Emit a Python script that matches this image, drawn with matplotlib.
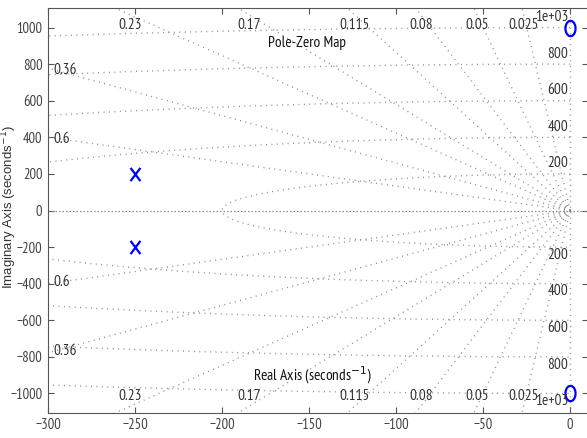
import numpy as np
import matplotlib
matplotlib.use('Agg')
import matplotlib.pyplot as plt
from matplotlib.path import Path

plt.rcParams['font.family'] = ['PT Sans Narrow', 'Roboto Condensed', 'DejaVu Sans']

# poles and zeros (real, imag)
pole_re = [-250, -250]
pole_im = [200, -200]
zero_re = [0, 0]
zero_im = [1000, -1000]

# sgrid values
zetas_top = [0.23, 0.17, 0.115, 0.08, 0.05, 0.025]
zetas_left = [0.36, 0.6]
zeta_labels_top = ['0.23', '0.17', '0.115', '0.08', '0.05', '0.025']
zeta_labels_left = ['0.36', '0.6']
wns = [200, 400, 600, 800, 1000]
wn_labels = ['200', '400', '600', '800', '1e+03']

xticks = [-300, -250, -200, -150, -100, -50, 0]
yticks = [-1000, -800, -600, -400, -200, 0, 200, 400, 600, 800, 1000]

fig = plt.figure(figsize=(5.87, 4.38), dpi=100)
ax = fig.add_axes([48 / 587, (438 - 412.7) / 438, 539.6 / 587, 404.4 / 438])
ax.set_xlim(-300, 10)
ax.set_ylim(-1105, 1105)

gcol = '#8a8a8a'
dots = dict(color=gcol, lw=1.0, linestyle=(0, (0.7, 3.2)))

# damping ratio rays
for z in zetas_top + zetas_left:
    t = np.sqrt(1 - z ** 2) / z
    r = np.linspace(0, 3000, 2)
    ax.plot(-r, r * t, **dots)
    ax.plot(-r, -r * t, **dots)

# natural frequency semicircles
th = np.linspace(np.pi / 2, 3 * np.pi / 2, 400)
for w in wns:
    ax.plot(w * np.cos(th), w * np.sin(th), **dots)

# axes lines
ax.plot([-300, 10], [0, 0], color=gcol, lw=0.9, linestyle=(0, (1.2, 1.6)))
ax.plot([0, 0], [-1105, 1105], **dots)

tcol = '#333333'
fs = 11
for z, lab in zip(zetas_top, zeta_labels_top):
    t = np.sqrt(1 - z ** 2) / z
    x = -1070 / t
    ax.text(x, 1016, lab, ha='center', va='center', fontsize=fs, color=tcol)
    ax.text(x, -1016, lab, ha='center', va='center', fontsize=fs, color=tcol)
for z, lab in zip(zetas_left, zeta_labels_left):
    t = np.sqrt(1 - z ** 2) / z
    y = 300 * t - 10
    ax.text(-297, y, lab, ha='left', va='center', fontsize=fs, color=tcol)
    ax.text(-297, -y, lab, ha='left', va='center', fontsize=fs, color=tcol)
for w, lab in zip(wns, wn_labels):
    ax.text(-1, w + 57, lab, ha='right', va='center', fontsize=fs, color=tcol)
    ax.text(-1, -w - 42, lab, ha='right', va='center', fontsize=fs, color=tcol)

# title and x label sit inside the (cropped) axes
ax.text(-151, 918, 'Pole-Zero Map', ha='center', va='center', fontsize=fs, color='#111111')
ax.text(-148, -902, 'Real Axis (seconds$^{-1}$)', ha='center', va='center', fontsize=fs, color='#111111')

# markers (picture is squeezed horizontally)
xm = Path([[-0.75, -1], [0.75, 1], [-0.75, 1], [0.75, -1]],
          [Path.MOVETO, Path.LINETO, Path.MOVETO, Path.LINETO])
a = np.linspace(0, 2 * np.pi, 60)
om = Path(np.column_stack([0.66 * np.cos(a), np.sin(a)]))
ax.plot(pole_re, pole_im, linestyle='none', marker=xm, ms=9.5, mew=1.6,
        mec='#0000ff', mfc='none', clip_on=False)
ax.plot(zero_re, zero_im, linestyle='none', marker=om, ms=11, mew=1.6,
        mec='#0000ff', mfc='none', clip_on=False)

ax.set_xticks(xticks)
ax.set_yticks(yticks)
ax.tick_params(direction='in', length=4, width=0.8, top=True, right=True,
               labelsize=10.5, labelcolor='#444444', color='#555555', pad=4)
for s in ax.spines.values():
    s.set_color('#555555')
    s.set_linewidth(0.8)

ax.set_ylabel('Imaginary Axis (seconds$^{-1}$)', fontsize=9.5, color='#333333',
              family=['Liberation Sans', 'DejaVu Sans'])
ax.yaxis.set_label_coords(-0.0545, 0.509)

fig.savefig('out.png', dpi=100)
